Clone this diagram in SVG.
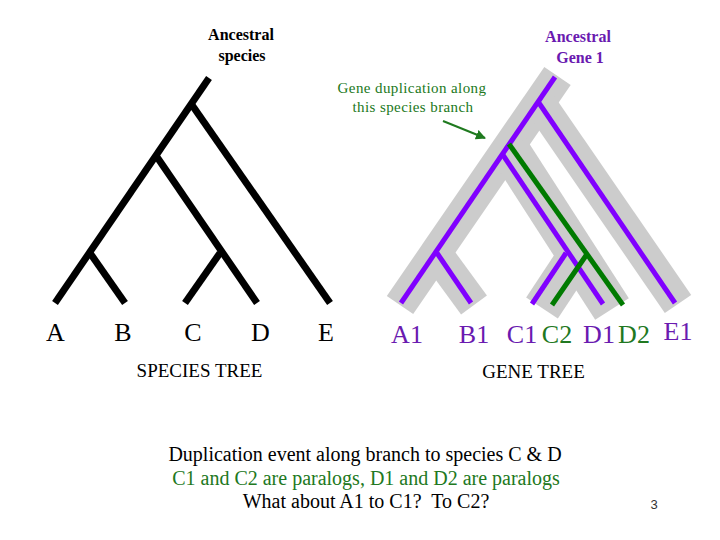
<svg xmlns="http://www.w3.org/2000/svg" width="720" height="540" viewBox="0 0 720 540">
<style>
.serif{font-family:"Liberation Serif","Times New Roman",serif}
.blk{fill:#000}
.pur{fill:#6a1ab0}
.grn{fill:#217821}
.sp{stroke:#000;stroke-width:7;fill:none}
.gy{stroke:#cccccc;fill:none}
.pl{stroke:#8000ff;stroke-width:5;fill:none}
.gl{stroke:#007a00;stroke-width:5;fill:none}
.leaf{font-size:26px;text-anchor:middle}
.title{font-size:19px;text-anchor:middle}
.bot{font-size:20px;text-anchor:middle}
</style>
<defs>
<marker id="arr" viewBox="0 0 10 10" refX="9" refY="5" markerWidth="5" markerHeight="5" orient="auto" markerUnits="strokeWidth">
<path d="M0,0 L10,5 L0,10 z" fill="#1f7a1f"/>
</marker>
</defs>
<rect width="720" height="540" fill="#fff"/>

<g id="species-tree">
<line class="sp" x1="209" y1="78" x2="55" y2="303"/>
<line class="sp" x1="192" y1="105" x2="330" y2="303"/>
<line class="sp" x1="157" y1="157" x2="257" y2="303"/>
<line class="sp" x1="220" y1="253" x2="185" y2="303"/>
<line class="sp" x1="90" y1="253" x2="125" y2="303"/>
</g>

<g id="gene-tree-species-outline">
<line class="gy" stroke-width="32" x1="557.5" y1="76" x2="400" y2="305"/>
<line class="gy" stroke-width="32" x1="539" y1="102" x2="678" y2="304"/>
<line class="gy" stroke-width="32" x1="436" y1="253" x2="474" y2="305"/>
<line class="gy" stroke-width="40" x1="509" y1="149" x2="612" y2="309"/>
<line class="gy" stroke-width="38" x1="577" y1="255" x2="542" y2="308"/>
</g>

<g id="gene-tree">
<line class="pl" x1="555" y1="77" x2="401" y2="303"/>
<line class="pl" x1="539" y1="103" x2="675" y2="303"/>
<line class="pl" x1="503" y1="155" x2="603" y2="304"/>
<line class="pl" x1="566" y1="253" x2="532" y2="304"/>
<line class="pl" x1="437" y1="253" x2="471" y2="303"/>
<line class="gl" x1="509" y1="144" x2="623" y2="305"/>
<line class="gl" x1="587" y1="254" x2="552" y2="305"/>
</g>

<g id="connectors">
<line x1="443" y1="121" x2="485" y2="138" stroke="#1f7a1f" stroke-width="2" marker-end="url(#arr)"/>
</g>

<g id="label-ancestral-species" class="serif blk" font-size="16" font-weight="bold" text-anchor="middle">
<text x="241" y="40">Ancestral</text>
<text x="242" y="61">species</text>
</g>
<g id="label-ancestral-gene" class="serif pur" font-size="16" font-weight="bold" text-anchor="middle">
<text x="578" y="42">Ancestral</text>
<text x="580" y="63">Gene 1</text>
</g>
<g id="label-duplication" class="serif grn" font-size="15" letter-spacing="0.4" text-anchor="middle">
<text x="412" y="93">Gene duplication along</text>
<text x="413" y="112">this species branch</text>
</g>

<g id="species-leaves" class="serif blk leaf">
<text x="55.5" y="341">A</text>
<text x="123" y="341">B</text>
<text x="193" y="341">C</text>
<text x="260.5" y="341">D</text>
<text x="326" y="341">E</text>
</g>
<g id="gene-leaves" class="serif leaf">
<text class="pur" x="407" y="343">A1</text>
<text class="pur" x="474" y="343">B1</text>
<text class="pur" x="522" y="343">C1</text>
<text class="grn" x="557" y="343">C2</text>
<text class="pur" x="599" y="343">D1</text>
<text class="grn" x="634" y="343">D2</text>
<text class="pur" x="678" y="340">E1</text>
</g>

<g id="tree-titles" class="serif blk title">
<text x="199.5" y="377">SPECIES TREE</text>
<text x="533.5" y="378">GENE TREE</text>
</g>

<g id="caption" class="serif bot">
<text class="blk" x="365" y="461">Duplication event along branch to species C &amp; D</text>
<text class="grn" x="366" y="485">C1 and C2 are paralogs, D1 and D2 are paralogs</text>
<text class="blk" x="366" y="508" xml:space="preserve">What about A1 to C1?  To C2?</text>
</g>
<text id="page-number" x="654" y="509" font-family="Liberation Sans, Arial, sans-serif" font-size="13" fill="#333" text-anchor="middle">3</text>
</svg>
